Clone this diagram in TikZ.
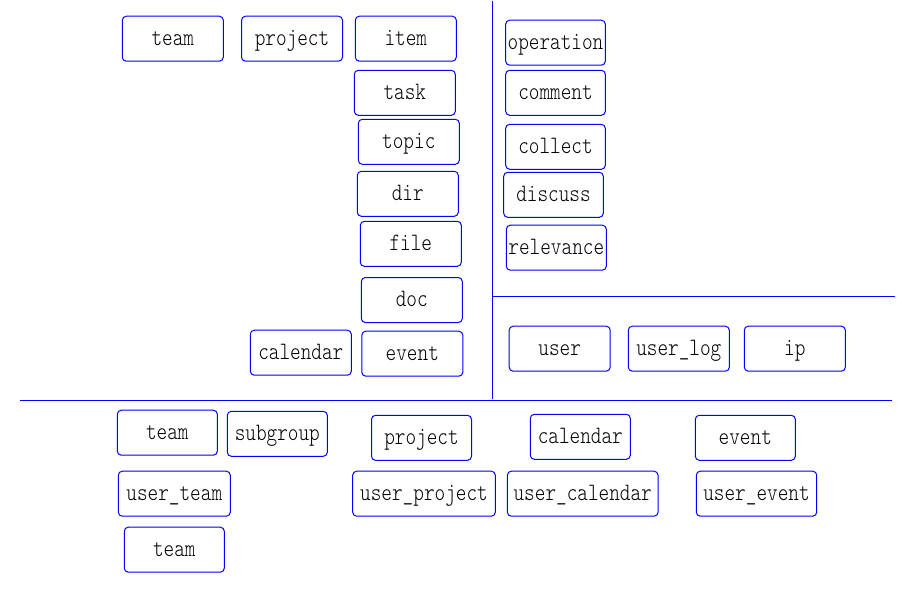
\documentclass[tikz,border=0pt]{standalone}
\usepackage{fontspec}
\newfontfamily\boxfont{lmmonolt10-regular}[Extension=.otf, FakeStretch=0.81]
\begin{document}
\begin{tikzpicture}[x=1pt,y=-1pt,
  box/.style={draw=blue, line width=1pt, rounded corners=4pt, inner sep=0pt,
    minimum height=45pt, minimum width=101pt, text=black,
    text height=13.2pt, text depth=0pt,
    font=\boxfont\fontsize{25pt}{28pt}\selectfont},
  sep/.style={draw=blue, line width=1pt}]
\useasboundingbox (0,0) rectangle (917,596);
% separators
\coordinate (v1) at (492,1);
\coordinate (v2) at (492,399);
\coordinate (h1) at (20,400.5);
\coordinate (h2) at (892,400.5);
\coordinate (m1) at (492,296.5);
\coordinate (m2) at (895,296.5);
\draw[sep] (v1) -- (v2);
\draw[sep] (h1) -- (h2);
\draw[sep] (m1) -- (m2);
% top-left
\node[box] (tteam) at (172.8,38.7) {team};
\node[box] (tproject) at (292,38.7) {project};
\node[box] (titem) at (405.8,38.7) {item};
\node[box] (ttask) at (404.8,92.8) {task};
\node[box] (ttopic) at (408.8,141.8) {topic};
\node[box] (tdir) at (407.8,193.8) {dir};
\node[box] (tfile) at (410.8,243.8) {file};
\node[box] (tdoc) at (411.8,300) {doc};
\node[box] (tcalendar) at (300.8,352.7) {calendar};
\node[box] (tevent) at (412.3,353.7) {event};
% right
\node[box, minimum width=99.6pt] (roperation) at (555.5,42.7) {operation};
\node[box, minimum width=99.6pt] (rcomment) at (555.5,92.8) {comment};
\node[box, minimum width=99.6pt] (rcollect) at (555.5,146.8) {collect};
\node[box, minimum width=99.6pt] (rdiscuss) at (553.5,194.8) {discuss};
\node[box, minimum width=100pt] (rrelevance) at (556.3,247.7) {relevance};
\node[box] (ruser) at (559.7,348.7) {user};
\node[box] (ruserlog) at (678.8,348.7) {user\_log};
\node[box] (rip) at (794.8,348.7) {ip};
% bottom
\node[box, minimum width=100pt] (bteam) at (167.3,432.7) {team};
\node[box, minimum width=100pt] (bsubgroup) at (277.3,433.8) {subgroup};
\node[box, minimum width=100pt] (bproject) at (421.5,437.8) {project};
\node[box, minimum width=112pt] (buserteam) at (174.3,493.7) {user\_team};
\node[box, minimum width=142.6pt] (buserproject) at (424,493.7) {user\_project};
\node[box, minimum width=100pt] (bteamb) at (174.3,549.7) {team};
\node[box, minimum width=100pt] (bcalendar) at (580.3,436.8) {calendar};
\node[box, minimum width=100pt] (bevent) at (745.3,437.8) {event};
\node[box, minimum width=150.7pt] (busercalendar) at (582.7,493.7) {user\_calendar};
\node[box, minimum width=120.4pt] (buserevent) at (756.5,493.7) {user\_event};
\end{tikzpicture}
\end{document}
